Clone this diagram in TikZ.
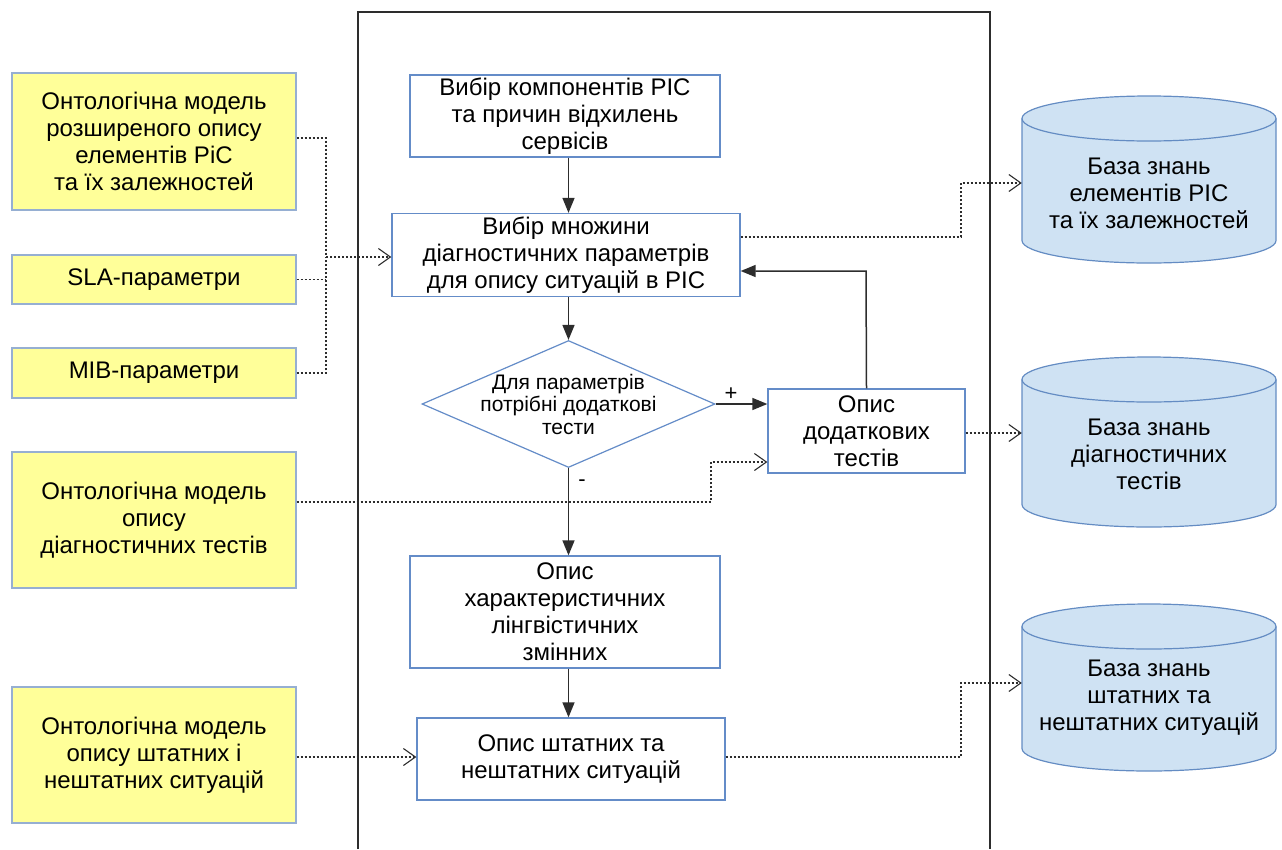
\documentclass[tikz,border=0pt]{standalone}
\usepackage{fontspec}
\setmainfont{Liberation Sans}
\usetikzlibrary{arrows.meta,shapes.geometric,calc}
\definecolor{yfill}{RGB}{255,255,153}
\definecolor{yline}{RGB}{150,175,210}
\definecolor{bline}{RGB}{100,140,200}
\definecolor{cfill}{RGB}{207,226,243}
\definecolor{cline}{RGB}{100,140,195}
\definecolor{conn}{RGB}{45,45,45}
\tikzset{
  ybox/.style={draw=yline,fill=yfill,line width=1.1pt,minimum width=284pt,align=center,inner sep=0pt,font=\fontsize{24}{27}\selectfont},
  wbox/.style={draw=bline,fill=white,line width=1.3pt,align=center,inner sep=0pt,font=\fontsize{24}{27}\selectfont},
  dbtext/.style={align=center,inner sep=0pt,font=\fontsize{24}{27}\selectfont},
  cylbody/.style={fill=cfill,draw=cline,line width=1.2pt},
  solidarr/.style={draw=conn,line width=1.5pt,-{Triangle[length=15pt,width=12pt]}},
  dotln/.style={draw=conn,line width=1.2pt,dash pattern=on 2pt off 2pt},
  dotarr/.style={dotln,-{Straight Barb[length=12pt,width=17pt,line width=1.1pt]}},
  lbl/.style={inner sep=0pt,font=\fontsize{22}{24}\selectfont}
}
\newcommand\dbcyl[4]{% left x, top y, bottom y, right x
  \path[cylbody] (#1,#2+22.5) -- (#1,#3-22.5) arc[start angle=180,end angle=360,x radius=(#4-#1)/2*1pt,y radius=22.5pt]
     -- (#4,#2+22.5) arc[start angle=0,end angle=180,x radius=(#4-#1)/2*1pt,y radius=22.5pt] -- cycle;
  \draw[cline,line width=1.2pt] (#1,#2+22.5) arc[start angle=180,end angle=360,x radius=(#4-#1)/2*1pt,y radius=22.5pt];
}
\begin{document}
\begin{tikzpicture}[x=1pt,y=-1pt]
\useasboundingbox (0,0) rectangle (1282,849);
% outer frame
\draw[conn,line width=1.3pt] (358,849) -- (358,12) -- (990,12) -- (990,849);

% left ontology boxes
\node[ybox,minimum height=137pt] (Y1) at (154,141.5) {Онтологічна модель\\розширеного опису\\елементів РіС\\та їх залежностей};
\node[ybox,minimum height=49pt] (Y2) at (154,279.5) {SLA-параметри};
\node[ybox,minimum height=50pt] (Y3) at (154,373) {MIB-параметри};
\node[ybox,minimum height=136pt] (Y4) at (154,520) {Онтологічна модель\\опису\\діагностичних тестів};
\node[ybox,minimum height=136pt] (Y5) at (154,755) {Онтологічна модель\\опису штатних і\\нештатних ситуацій};

% central flow
\node[wbox,minimum width=310pt,minimum height=82pt] (B1) at (565,116) {Вибір компонентів РІС\\та причин відхилень\\сервісів};
\node[wbox,minimum width=348pt,minimum height=83pt] (B2) at (566,255) {Вибір множини\\діагностичних параметрів\\для опису ситуацій в РІС};
\node[diamond,draw=bline,fill=white,line width=1.2pt,minimum width=293pt,minimum height=127pt,inner sep=0pt,aspect=2.3] (D) at (568.5,404) {};
\node[align=center,inner sep=0pt,font=\fontsize{21}{22.5}\selectfont] (Dt) at (568.5,404) {Для параметрів\\потрібні додаткові\\тести};
\node[wbox,minimum width=197pt,minimum height=84pt] (B3) at (866.5,431) {Опис\\додаткових\\тестів};
\node[wbox,minimum width=310pt,minimum height=112pt] (B4) at (565,612) {Опис\\характеристичних\\лінгвістичних\\змінних};
\node[wbox,minimum width=308pt,minimum height=82pt] (B5) at (571,759) {Опис штатних та\\нештатних ситуацій};

% cylinders
\dbcyl{1022}{96}{263}{1276}
\node[dbtext,minimum width=254pt,minimum height=167pt] (C1) at (1149,179.5) {};
\node[dbtext] (C1t) at (1149,193) {База знань\\елементів РІС\\та їх залежностей};
\dbcyl{1022}{357}{527}{1276}
\node[dbtext,minimum width=254pt,minimum height=170pt] (C2) at (1149,442) {};
\node[dbtext] (C2t) at (1149,454) {База знань\\діагностичних\\тестів};
\dbcyl{1022}{604}{771}{1276}
\node[dbtext,minimum width=254pt,minimum height=167pt] (C3) at (1149,687.5) {};
\node[dbtext] (C3t) at (1149,698) {База знань\\штатних та\\нештатних ситуацій};

% helper coordinates
\coordinate (jL) at (326,257);
\coordinate (k1) at (961,237);
\coordinate (k1b) at (961,183);
\coordinate (k2) at (711,502);
\coordinate (k3) at (711,462);
\coordinate (k4) at (866,271);
\coordinate (k5) at (961,757);
\coordinate (k5b) at (961,683);
\coordinate (k6) at (0,433);
\coordinate (k7) at (0,138);

% dotted inputs
\draw[dotln] (Y1.east |- k7) -| (jL);
\draw[dotln] (Y2.east) -- (Y2.east -| jL);
\draw[dotln] (Y3.east) -| (jL);
\draw[dotarr] (jL) -- (B2.west |- jL);
\draw[dotarr] (Y4.east |- k2) -- (k2) -- (k3) -- (B3.west |- k3);
\draw[dotarr] (Y5.east |- k5) -- (B5.west |- k5);

% dotted outputs
\draw[dotarr] (B2.east |- k1) -- (k1) -- (k1b) -- (C1.west |- k1b);
\draw[dotarr] (B3.east |- k6) -- (C2.west |- k6);
\draw[dotarr] (B5.east |- k5) -- (k5) -- (k5b) -- (C3.west |- k5b);

% solid flow
\draw[solidarr] (D.north |- B1.south) -- (D.north |- B2.north);
\draw[solidarr] (D.north |- B2.south) -- (D.north);
\draw[solidarr] (D.east) -- (B3.west |- D.east) node[lbl,pos=0.3,above=3pt] {+};
\draw[solidarr] (D.south) -- (D.south |- B4.north) node[lbl,pos=0.17,right=9pt] {-};
\draw[solidarr] (D.south |- B4.south) -- (D.south |- B5.north);
\draw[solidarr] (B3.north) -- (k4) -- (B2.east |- k4);
\end{tikzpicture}
\end{document}
